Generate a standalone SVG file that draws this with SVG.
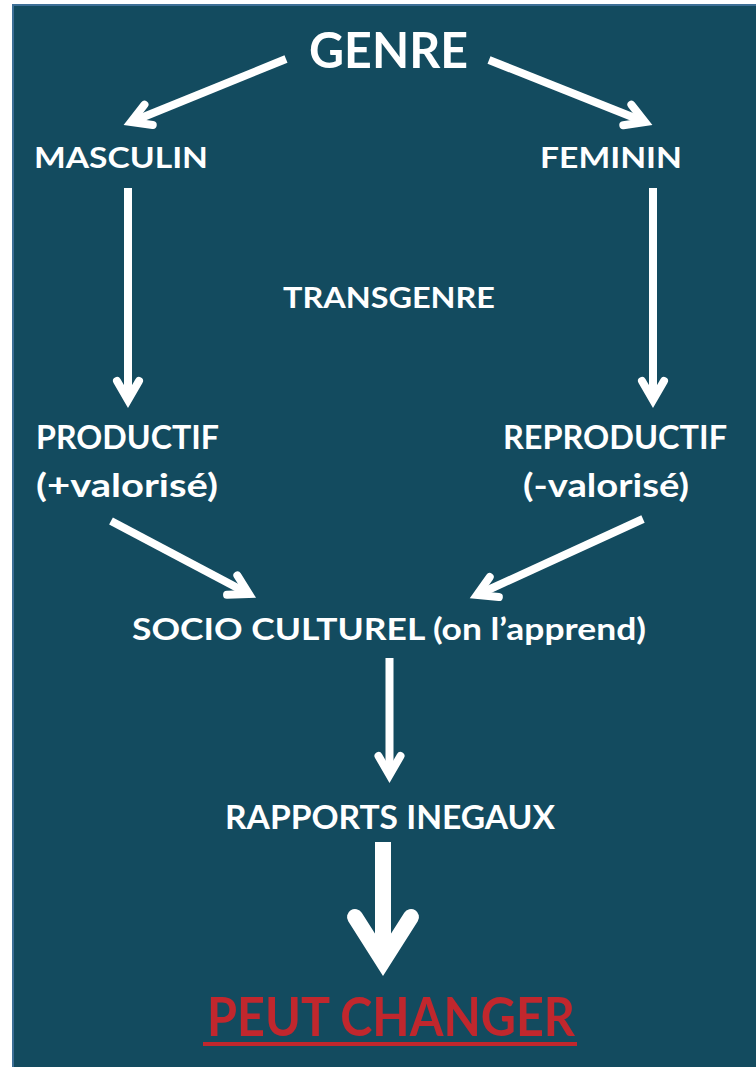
<svg xmlns="http://www.w3.org/2000/svg" width="756" height="1067" viewBox="0 0 756 1067">
  <style>
    .lbl { font-family: Lato, "Open Sans", "Liberation Sans", sans-serif; font-weight: bold; fill: #ffffff; }
    .red { fill: #c1272d; }
    .conn { stroke: #ffffff; stroke-width: 8; fill: none; stroke-linecap: butt; }
    .big { stroke-width: 16; }
  </style>
  <defs>
    <marker id="head" markerUnits="userSpaceOnUse" viewBox="-40 -30 60 60" refX="0" refY="0" markerWidth="60" markerHeight="60" orient="auto" overflow="visible">
      <path d="M -19 -11 L 0 0 L -19 11" fill="none" stroke="#ffffff" stroke-width="8" stroke-linecap="round" stroke-linejoin="miter" stroke-miterlimit="10"/>
    </marker>
    <marker id="headBig" markerUnits="userSpaceOnUse" viewBox="-70 -50 100 100" refX="0" refY="0" markerWidth="100" markerHeight="100" orient="auto" overflow="visible">
      <path d="M -44 -28 L 0 0 L -44 28" fill="none" stroke="#ffffff" stroke-width="16" stroke-linecap="round" stroke-linejoin="miter" stroke-miterlimit="10"/>
    </marker>
  </defs>

  <rect x="0" y="0" width="756" height="1067" fill="#ffffff"/>
  <rect id="panel" x="13" y="5" width="750" height="1070" fill="#134b5f" stroke="#3d6f96" stroke-width="2"/>

  <g id="connectors">
    <line class="conn" x1="286" y1="59" x2="131" y2="122" marker-end="url(#head)"/>
    <line class="conn" x1="489" y1="60" x2="645" y2="122" marker-end="url(#head)"/>
    <line class="conn" x1="128" y1="188" x2="128" y2="400" marker-end="url(#head)"/>
    <line class="conn" x1="653" y1="188" x2="653" y2="400" marker-end="url(#head)"/>
    <line class="conn" x1="111" y1="521" x2="249" y2="594" marker-end="url(#head)"/>
    <line class="conn" x1="643" y1="519" x2="477" y2="595" marker-end="url(#head)"/>
    <line class="conn" x1="389.5" y1="658" x2="389.5" y2="775" marker-end="url(#head)"/>
    <line class="conn big" x1="383" y1="842" x2="383" y2="961" marker-end="url(#headBig)"/>
  </g>

  <g id="genre">
    <text class="lbl" x="309" y="68" font-size="49" textLength="159" lengthAdjust="spacingAndGlyphs">GENRE</text>
  </g>
  <g id="masculin">
    <text class="lbl" x="34" y="168" font-size="28" textLength="174" lengthAdjust="spacingAndGlyphs">MASCULIN</text>
  </g>
  <g id="feminin">
    <text class="lbl" x="540" y="168" font-size="28" textLength="142" lengthAdjust="spacingAndGlyphs">FEMININ</text>
  </g>
  <g id="transgenre">
    <text class="lbl" x="283" y="308" font-size="29" textLength="212" lengthAdjust="spacingAndGlyphs">TRANSGENRE</text>
  </g>
  <g id="productif">
    <text class="lbl" x="36" y="449" font-size="31.5" textLength="183" lengthAdjust="spacingAndGlyphs">PRODUCTIF</text>
    <text class="lbl" x="36" y="497" font-size="31.5" textLength="182" lengthAdjust="spacingAndGlyphs">(+valorisé)</text>
  </g>
  <g id="reproductif">
    <text class="lbl" x="503" y="449" font-size="31.5" textLength="224" lengthAdjust="spacingAndGlyphs">REPRODUCTIF</text>
    <text class="lbl" x="523" y="497" font-size="31.5" textLength="166" lengthAdjust="spacingAndGlyphs">(-valorisé)</text>
  </g>
  <g id="socioculturel">
    <text class="lbl" x="132" y="640" font-size="30" textLength="514" lengthAdjust="spacingAndGlyphs">SOCIO CULTUREL (on l’apprend)</text>
  </g>
  <g id="rapports">
    <text class="lbl" x="225" y="829" font-size="32" textLength="330" lengthAdjust="spacingAndGlyphs">RAPPORTS INEGAUX</text>
  </g>
  <g id="peutchanger">
    <text class="lbl red" x="207" y="1036" font-size="53" textLength="368" lengthAdjust="spacingAndGlyphs">PEUT CHANGER</text>
    <rect x="203" y="1042" width="374" height="4" fill="#c1272d"/>
  </g>
</svg>
